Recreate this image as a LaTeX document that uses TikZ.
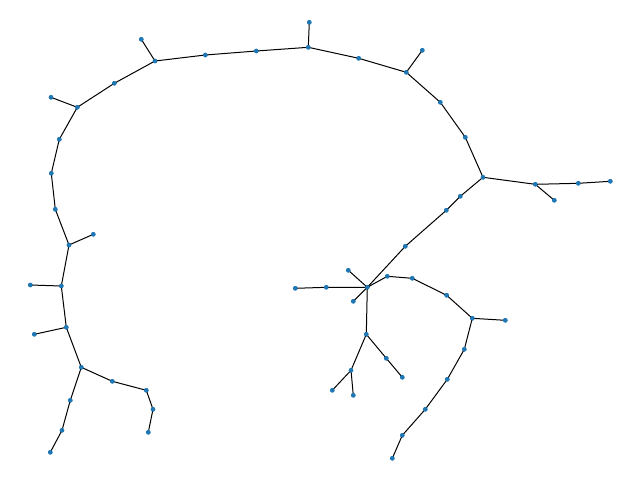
\documentclass[tikz,border=0pt]{standalone}
\definecolor{nodeblue}{RGB}{31,119,180}
\begin{document}
\begin{tikzpicture}[x=0.75pt,y=-0.75pt,
  v/.style={circle,fill=nodeblue,inner sep=0pt,minimum size=3.4pt},
  e/.style={draw=black,line width=0.75pt}]
\useasboundingbox (0,0) rectangle (640,480);
% nodes
\node[v] (a1) at (141.3,39.3) {};
\node[v] (a2) at (155,61) {};
\node[v] (a3) at (205.3,55) {};
\node[v] (a4) at (256.3,51) {};
\node[v] (a5) at (308.3,47.3) {};
\node[v] (a6) at (309.3,22.3) {};
\node[v] (b1) at (114.3,83.3) {};
\node[v] (b2) at (77.3,107.3) {};
\node[v] (b3) at (51,97.3) {};
\node[v] (c1) at (59.3,139.3) {};
\node[v] (c2) at (51.3,173.3) {};
\node[v] (c3) at (55.3,209.3) {};
\node[v] (d1) at (69,245) {};
\node[v] (c4) at (93.3,234.3) {};
\node[v] (d2) at (61.3,286) {};
\node[v] (d2l) at (30.3,285) {};
\node[v] (d3) at (66.3,327.3) {};
\node[v] (d3l) at (34.3,334.3) {};
\node[v] (d4) at (81.3,367.3) {};
\node[v] (e1) at (70.3,400.3) {};
\node[v] (e2) at (62,430.3) {};
\node[v] (e3) at (50.3,452.3) {};
\node[v] (f1) at (112.3,381.3) {};
\node[v] (f2) at (146.3,390.3) {};
\node[v] (f3) at (153,409.3) {};
\node[v] (f4) at (148.3,432.3) {};
\node[v] (h1) at (358.7,58.3) {};
\node[v] (h2) at (406.3,72.3) {};
\node[v] (h3) at (422.3,50.3) {};
\node[v] (h4) at (440.3,102.3) {};
\node[v] (h5) at (465.3,137.3) {};
\node[v] (h6) at (483,177.3) {};
\node[v] (i1) at (535.3,184.3) {};
\node[v] (i2) at (578.3,183.3) {};
\node[v] (i3) at (610.3,181.3) {};
\node[v] (i4) at (554.3,200.3) {};
\node[v] (j1) at (460.3,196.3) {};
\node[v] (j2) at (446.3,210.3) {};
\node[v] (k1) at (405.3,246.3) {};
\node[v] (K) at (367.3,287.3) {};
\node[v] (ku) at (348.3,270.3) {};
\node[v] (kd) at (353.3,301.3) {};
\node[v] (l1) at (326.3,287.3) {};
\node[v] (l2) at (295.3,288.3) {};
\node[v] (m1) at (387.3,276.3) {};
\node[v] (m2) at (412.3,278.3) {};
\node[v] (m3) at (446.7,295.3) {};
\node[v] (m4) at (472.3,318.3) {};
\node[v] (m4l) at (505.3,320.3) {};
\node[v] (n1) at (464.3,349.3) {};
\node[v] (n2) at (447.3,379.3) {};
\node[v] (n3) at (425.3,409.3) {};
\node[v] (n4) at (402.3,435.3) {};
\node[v] (n5) at (392.3,458.3) {};
\node[v] (o) at (366.3,334.3) {};
\node[v] (o1) at (386.3,358.3) {};
\node[v] (o2) at (402.3,377.3) {};
\node[v] (p) at (351,370.3) {};
\node[v] (p1) at (332.3,390.3) {};
\node[v] (p2) at (353.3,395.3) {};
% edges
\draw[e] (a6.center)--(a5.center)--(a4.center)--(a3.center)--(a2.center)--(b1.center)--(b2.center)--(c1.center)--(c2.center)--(c3.center)--(d1.center)--(d2.center)--(d3.center)--(d4.center)--(e1.center)--(e2.center)--(e3.center);
\draw[e] (a2.center)--(a1.center);
\draw[e] (b2.center)--(b3.center);
\draw[e] (d1.center)--(c4.center);
\draw[e] (d2.center)--(d2l.center);
\draw[e] (d3.center)--(d3l.center);
\draw[e] (d4.center)--(f1.center)--(f2.center)--(f3.center)--(f4.center);
\draw[e] (a5.center)--(h1.center)--(h2.center)--(h4.center)--(h5.center)--(h6.center)--(i1.center)--(i2.center)--(i3.center);
\draw[e] (h2.center)--(h3.center);
\draw[e] (i1.center)--(i4.center);
\draw[e] (h6.center)--(j1.center)--(j2.center)--(k1.center)--(K.center)--(l1.center)--(l2.center);
\draw[e] (K.center)--(ku.center);
\draw[e] (K.center)--(kd.center);
\draw[e] (K.center)--(m1.center)--(m2.center)--(m3.center)--(m4.center)--(n1.center)--(n2.center)--(n3.center)--(n4.center)--(n5.center);
\draw[e] (m4.center)--(m4l.center);
\draw[e] (K.center)--(o.center)--(o1.center)--(o2.center);
\draw[e] (o.center)--(p.center)--(p1.center);
\draw[e] (p.center)--(p2.center);
% dots on top of the edges
\foreach \n in {a1,a2,a3,a4,a5,a6,b1,b2,b3,c1,c2,c3,d1,c4,d2,d2l,d3,d3l,d4,e1,e2,e3,f1,f2,f3,f4,h1,h2,h3,h4,h5,h6,i1,i2,i3,i4,j1,j2,k1,K,ku,kd,l1,l2,m1,m2,m3,m4,m4l,n1,n2,n3,n4,n5,o,o1,o2,p,p1,p2}
  \fill[nodeblue] (\n.center) circle (1.7pt);
\end{tikzpicture}
\end{document}
